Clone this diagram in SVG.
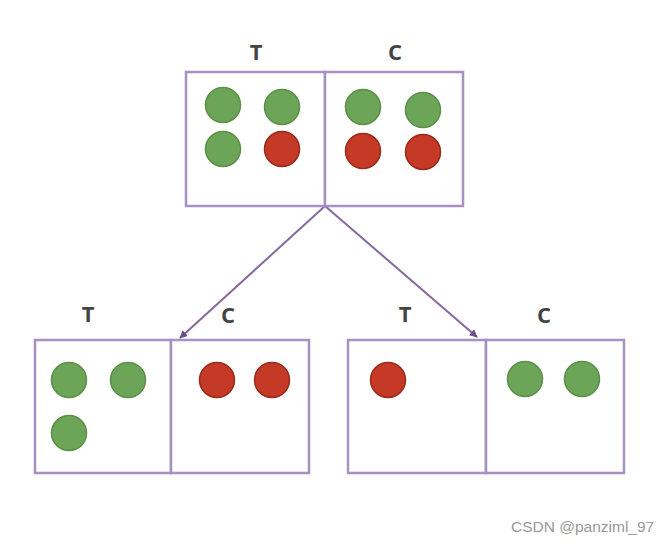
<svg xmlns="http://www.w3.org/2000/svg" width="668" height="544" viewBox="0 0 668 544">
<defs>
<style>
.box{fill:#fff;stroke:#a791c2;stroke-width:2.5}
.g{fill:#6da558;stroke:#5c9049;stroke-width:1.5}
.r{fill:#c43a26;stroke:#9a2b1b;stroke-width:1.5}
.lbl{font-family:"Open Sans","Liberation Sans",sans-serif;font-weight:bold;font-size:22px;fill:#444;text-anchor:middle}
.edge{stroke:#86689f;stroke-width:2;fill:none}
.wm{font-family:"Liberation Sans",Arial,sans-serif;font-size:15.5px;fill:#999}
</style>
<marker id="ah" viewBox="0 0 10 10" refX="9" refY="5" markerWidth="4" markerHeight="4" orient="auto">
<path d="M0,0 L10,5 L0,10 z" fill="#6b4f8a"/>
</marker>
</defs>
<rect width="668" height="544" fill="#fff"/>
<g id="connectors">
<line class="edge" x1="325" y1="206" x2="180" y2="338" marker-end="url(#ah)"/>
<line class="edge" x1="325" y1="206" x2="477" y2="337" marker-end="url(#ah)"/>
</g>
<g id="top">
<rect class="box" x="186" y="72" width="139" height="134"/>
<rect class="box" x="325" y="72" width="138" height="134"/>
<text class="lbl" x="256" y="60">T</text>
<text class="lbl" x="395" y="60">C</text>
<circle class="g" cx="223" cy="105" r="17.5"/>
<circle class="g" cx="282" cy="107" r="17.5"/>
<circle class="g" cx="223" cy="149" r="17.5"/>
<circle class="r" cx="282" cy="149" r="17.5"/>
<circle class="g" cx="363" cy="107" r="17.5"/>
<circle class="g" cx="423" cy="110" r="17.5"/>
<circle class="r" cx="363" cy="151" r="17.5"/>
<circle class="r" cx="423" cy="152" r="17.5"/>
</g>
<g id="left">
<rect class="box" x="35" y="340" width="136" height="133"/>
<rect class="box" x="171" y="340" width="138" height="133"/>
<text class="lbl" x="88" y="322">T</text>
<text class="lbl" x="228" y="323">C</text>
<circle class="g" cx="69" cy="380" r="17.5"/>
<circle class="g" cx="128" cy="380" r="17.5"/>
<circle class="g" cx="69" cy="433" r="17.5"/>
<circle class="r" cx="217" cy="380" r="17.5"/>
<circle class="r" cx="272" cy="380" r="17.5"/>
</g>
<g id="right">
<rect class="box" x="348" y="340" width="138" height="133"/>
<rect class="box" x="486" y="340" width="138" height="133"/>
<text class="lbl" x="405" y="322">T</text>
<text class="lbl" x="544" y="323">C</text>
<circle class="r" cx="388" cy="380" r="17.5"/>
<circle class="g" cx="525" cy="379" r="17.5"/>
<circle class="g" cx="582" cy="379" r="17.5"/>
</g>
<text class="wm" x="511" y="532">CSDN @panziml_97</text>
</svg>
